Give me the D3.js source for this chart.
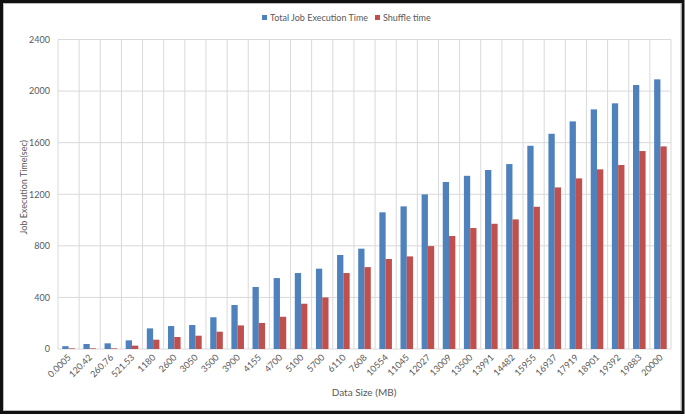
<!DOCTYPE html>
<html>
<head>
<meta charset="utf-8">
<script src="https://cdn.jsdelivr.net/npm/d3@7"></script>
<style>
  body { margin: 0; background: #fff; }
  text { font-family: Lato, "Open Sans", sans-serif; fill: #595959; }
</style>
</head>
<body>
<div id="chart"></div>
<script>
// Data
const sizes = ["0.0005", "120.42", "260.76", "521.53", "1180", "2600", "3050", "3500", "3900",
  "4155", "4700", "5100", "5700", "6110", "7608", "10554", "11045", "12027", "13009", "13500",
  "13991", "14482", "15955", "16937", "17919", "18901", "19392", "19883", "20000"];
const totalTime = [22, 39, 44, 67, 160, 178, 186, 246, 341, 481, 550, 589, 623, 729, 778,
  1060, 1106, 1199, 1295, 1343, 1388, 1434, 1576, 1669, 1765, 1858, 1905, 2047, 2091];
const shuffleTime = [5, 5, 5, 26, 72, 93, 103, 134, 183, 202, 250, 351, 400, 589, 635,
  698, 718, 798, 876, 938, 971, 1005, 1103, 1253, 1323, 1393, 1427, 1535, 1571];
const seriesNames = ["Total Job Execution Time", "Shuffle time"];
const yTicks = [0, 400, 800, 1200, 1600, 2000, 2400];

const W = 685, H = 416;
const plot = { left: 58, right: 671, top: 39.5, bottom: 349 };
const colors = ["#4f81bd", "#c0504d"];

const svg = d3.select("#chart").append("svg")
  .attr("width", W)
  .attr("height", H);

svg.append("rect").attr("width", W).attr("height", H).attr("fill", "#fff");

const rows = sizes.map((s, i) => ({ size: s, values: [totalTime[i], shuffleTime[i]] }));

// Scales
const x0 = d3.scaleBand().domain(sizes).range([plot.left, plot.right]).padding(0);
const x1 = d3.scaleBand().domain([0, 1]).range([0, x0.bandwidth()]).paddingInner(0).paddingOuter(0.68);
const y = d3.scaleLinear().domain([0, 2400]).range([plot.bottom, plot.top]);

// Gridlines
const grid = svg.append("g");
grid.selectAll("line.h")
  .data(yTicks)
  .enter().append("line")
  .attr("x1", plot.left).attr("x2", plot.right)
  .attr("y1", d => y(d)).attr("y2", d => y(d))
  .attr("stroke", "#d9d9d9").attr("stroke-width", 1);

grid.selectAll("line.v")
  .data(sizes.concat(["_end"]))
  .enter().append("line")
  .attr("x1", (d, i) => i < sizes.length ? x0(d) : plot.right)
  .attr("x2", (d, i) => i < sizes.length ? x0(d) : plot.right)
  .attr("y1", plot.top).attr("y2", plot.bottom)
  .attr("stroke", "#d9d9d9").attr("stroke-width", 1);

// Bars
const groups = svg.append("g").selectAll("g")
  .data(rows)
  .enter().append("g")
  .attr("transform", d => `translate(${x0(d.size)},0)`);

groups.selectAll("rect")
  .data(d => d.values.map((v, k) => ({ k: k, v: v })))
  .enter().append("rect")
  .attr("x", d => x1(d.k))
  .attr("width", x1.bandwidth())
  .attr("y", d => y(d.v))
  .attr("height", d => y(0) - y(d.v))
  .attr("fill", d => colors[d.k]);

// Y axis
const yAxis = svg.append("g")
  .attr("transform", `translate(${plot.left},0)`)
  .call(d3.axisLeft(y).tickValues(yTicks).tickFormat(d3.format("d")).tickSize(0).tickPadding(8));
yAxis.select(".domain").remove();
yAxis.selectAll("text").style("font-size", "9px").style("fill", "#595959");

// X axis
const xAxis = svg.append("g")
  .attr("transform", `translate(0,${plot.bottom})`)
  .call(d3.axisBottom(x0).tickSize(0).tickPadding(0));
xAxis.select(".domain").remove();
xAxis.selectAll("text")
  .style("font-size", "9px")
  .style("fill", "#595959")
  .attr("text-anchor", "end")
  .attr("dy", null)
  .attr("transform", "translate(3,9) rotate(-45)");

// Axis titles
svg.append("text")
  .attr("transform", `translate(27,${(plot.top + plot.bottom) / 2 - 7}) rotate(-90)`)
  .attr("text-anchor", "middle")
  .style("font-size", "9px")
  .text("Job Execution Time(sec)");

svg.append("text")
  .attr("x", 364)
  .attr("y", 396)
  .attr("text-anchor", "middle")
  .style("font-size", "10px")
  .text("Data Size (MB)");

// Legend
const legendX = [262, 375];
const legend = svg.append("g").selectAll("g")
  .data(seriesNames)
  .enter().append("g")
  .attr("transform", (d, i) => `translate(${legendX[i]},15)`);

legend.append("rect")
  .attr("width", 5).attr("height", 5)
  .attr("y", 0)
  .attr("fill", (d, i) => colors[i]);

legend.append("text")
  .attr("x", 8)
  .attr("y", 5.5)
  .style("font-size", "9px")
  .text(d => d);

// Frame
svg.append("rect")
  .attr("x", 1.5).attr("y", 1.5)
  .attr("width", 681.5).attr("height", 411)
  .attr("fill", "none")
  .attr("stroke", "#111").attr("stroke-width", 3);
svg.append("rect")
  .attr("x", 3.5).attr("y", 3.5)
  .attr("width", 677.5).attr("height", 407)
  .attr("fill", "none")
  .attr("stroke", "#bbb").attr("stroke-width", 1);
</script>
</body>
</html>
